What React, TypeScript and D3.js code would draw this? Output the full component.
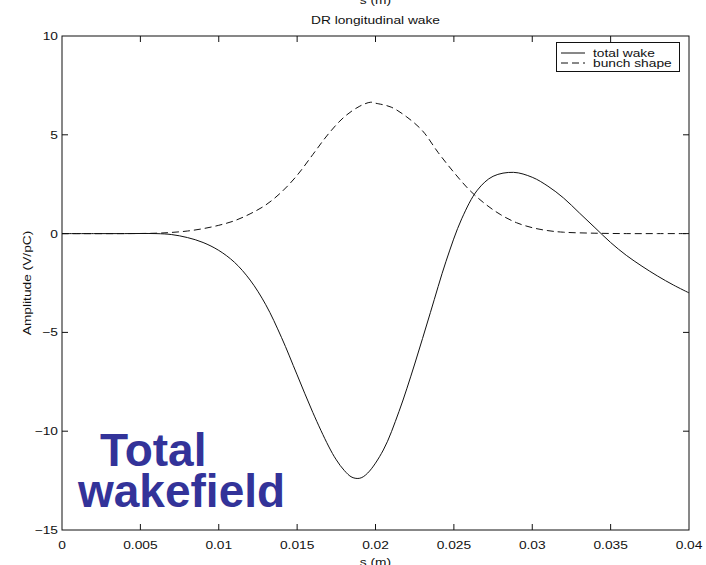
import { useEffect, useRef } from 'react'
import * as d3 from 'd3'

// total wake
const wakeS = [0, 0.002, 0.004, 0.006, 0.007, 0.008, 0.009, 0.01, 0.011, 0.012, 0.013, 0.014, 0.015, 0.016, 0.017, 0.0175, 0.018, 0.0185, 0.019, 0.0195, 0.0205, 0.0215, 0.0225, 0.0235, 0.0245, 0.0255, 0.0265, 0.0275, 0.0288, 0.03, 0.031, 0.032, 0.033, 0.034, 0.035, 0.036, 0.037, 0.038, 0.039, 0.04]
const wakeV = [0, 0, 0, 0, -0.05, -0.2, -0.45, -0.85, -1.45, -2.35, -3.6, -5.25, -7.15, -9.05, -10.75, -11.45, -11.98, -12.33, -12.38, -12.12, -10.95, -9.0, -6.6, -4.0, -1.4, 0.75, 2.2, 2.9, 3.1, 2.85, 2.4, 1.8, 1.05, 0.3, -0.45, -1.1, -1.65, -2.15, -2.6, -3.0]

// bunch shape
const bunchS = [0, 0.004, 0.006, 0.007, 0.008, 0.009, 0.01, 0.011, 0.012, 0.013, 0.014, 0.015, 0.016, 0.017, 0.018, 0.019, 0.0197, 0.02, 0.021, 0.022, 0.023, 0.024, 0.025, 0.026, 0.027, 0.028, 0.029, 0.03, 0.031, 0.032, 0.034, 0.036, 0.038, 0.04]
const bunchV = [0, 0, 0.02, 0.06, 0.13, 0.25, 0.42, 0.65, 1.0, 1.45, 2.1, 2.95, 4.0, 5.05, 5.9, 6.45, 6.65, 6.6, 6.4, 5.9, 5.2, 4.1, 3.1, 2.2, 1.5, 0.95, 0.55, 0.3, 0.15, 0.07, 0.02, 0, 0, 0]

const xTicks = [0, 0.005, 0.01, 0.015, 0.02, 0.025, 0.03, 0.035, 0.04]
const xTickLabels = ['0', '0.005', '0.01', '0.015', '0.02', '0.025', '0.03', '0.035', '0.04']
const yTicks = [-15, -10, -5, 0, 5, 10]
const yTickLabels = ['\u221215', '\u221210', '\u22125', '0', '5', '10']
const legendLabels = ['total wake', 'bunch shape']

export default function App() {
  const ref = useRef<SVGSVGElement>(null)

  useEffect(() => {
    const width = 706,
      height = 565,
      left = 62,
      right = 689,
      top = 36,
      bottom = 530,
      tick = 6,
      font = 'Liberation Sans, Arial, Helvetica, sans-serif'

    const x = d3.scaleLinear().domain([0, 0.04]).range([left, right])
    const y = d3.scaleLinear().domain([-15, 10]).range([bottom, top])

    const svg = d3.select(ref.current)
    svg.selectAll('*').remove()
    svg.attr('width', width).attr('height', height)

    svg.append('rect').attr('width', width).attr('height', height).attr('fill', '#fff')

    // stretched text, like the squeezed original
    const label = (tx: number, ty: number, t: string, anchor = 'middle', rot = 0) =>
      svg
        .append('text')
        .attr('transform', `translate(${tx},${ty}) rotate(${rot}) scale(1.25,1)`)
        .attr('text-anchor', anchor)
        .attr('font-family', font)
        .attr('font-size', 11)
        .attr('fill', '#111')
        .text(t)

    // box
    svg
      .append('rect')
      .attr('x', left)
      .attr('y', top)
      .attr('width', right - left)
      .attr('height', bottom - top)
      .attr('fill', 'none')
      .attr('stroke', '#111')
      .attr('stroke-width', 1)

    const ticks = svg.append('g').attr('stroke', '#111').attr('stroke-width', 1)
    xTicks.forEach((t, i) => {
      if (i > 0 && i < xTicks.length - 1) {
        ticks.append('line').attr('x1', x(t)).attr('x2', x(t)).attr('y1', bottom).attr('y2', bottom - tick)
        ticks.append('line').attr('x1', x(t)).attr('x2', x(t)).attr('y1', top).attr('y2', top + tick)
      }
      label(x(t), 549, xTickLabels[i])
    })
    yTicks.forEach((t, i) => {
      if (i > 0 && i < yTicks.length - 1) {
        ticks.append('line').attr('x1', left).attr('x2', left + tick).attr('y1', y(t)).attr('y2', y(t))
        ticks.append('line').attr('x1', right).attr('x2', right - tick).attr('y1', y(t)).attr('y2', y(t))
      }
      label(left - 4, y(t) + 4, yTickLabels[i], 'end')
    })

    label((left + right) / 2, 566, 's (m)')
    label((left + right) / 2, 4, 's (m)')
    label((left + right) / 2, 24, 'DR longitudinal wake')
    label(31, (top + bottom) / 2, 'Amplitude (V/pC)', 'middle', -90)

    const line = d3.line<number>().curve(d3.curveCatmullRom)

    svg
      .append('path')
      .attr('d', line.x((d, i) => x(bunchS[i])).y((d) => y(d))(bunchV))
      .attr('fill', 'none')
      .attr('stroke', '#111')
      .attr('stroke-width', 1)
      .attr('stroke-dasharray', '7,4')

    svg
      .append('path')
      .attr('d', line.x((d, i) => x(wakeS[i])).y((d) => y(d))(wakeV))
      .attr('fill', 'none')
      .attr('stroke', '#111')
      .attr('stroke-width', 1)

    // legend
    svg
      .append('rect')
      .attr('x', 556.5)
      .attr('y', 42.5)
      .attr('width', 123)
      .attr('height', 29)
      .attr('fill', '#fff')
      .attr('stroke', '#111')
    legendLabels.forEach((t, i) => {
      const ly = 53 + i * 10
      svg
        .append('line')
        .attr('x1', 561)
        .attr('x2', 585)
        .attr('y1', ly)
        .attr('y2', ly)
        .attr('stroke', '#111')
        .attr('stroke-dasharray', i === 1 ? '7,4' : null)
      label(593, ly + 4, t, 'start')
    })

    // annotation
    const note = svg
      .append('text')
      .attr('font-family', font)
      .attr('font-size', 46)
      .attr('font-weight', 'bold')
      .attr('fill', '#333399')
    note.append('tspan').attr('x', 100).attr('y', 466).text('Total')
    note.append('tspan').attr('x', 78).attr('y', 507).text('wakefield')
  })

  return <svg ref={ref} style={{ position: 'absolute', left: 0, top: 0 }}></svg>
}
